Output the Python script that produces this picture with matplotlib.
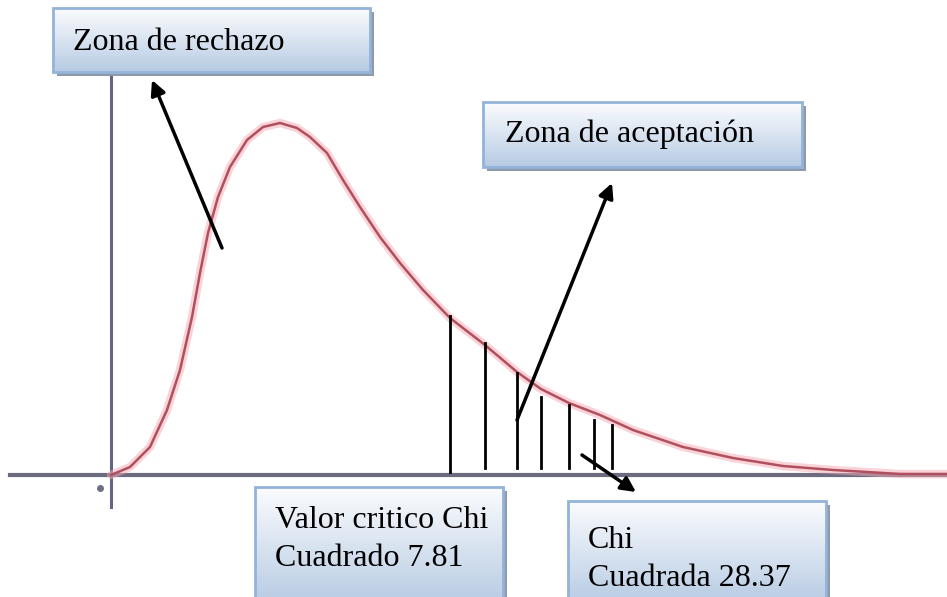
import numpy as np
import matplotlib
matplotlib.use("Agg")
import matplotlib.pyplot as plt
from matplotlib.colors import LinearSegmentedColormap
from matplotlib.patches import Rectangle

# curve (x from origin, height above axis)
curve_x = [0, 19, 39, 56, 69, 81, 89, 97, 107, 119, 136, 152, 169, 186, 199, 216,
           232, 249, 269, 289, 312, 339, 374, 406, 430, 458, 489, 522, 572, 622,
           672, 722, 756, 789, 836]
curve_y = [0, 8, 28, 65, 105, 158, 202, 242, 278, 308, 335, 348, 352, 347, 338, 322,
           295, 268, 238, 212, 185, 157, 130, 103, 86, 72, 60, 45, 28, 17,
           9, 5, 3, 1, 1]

# hatch lines under the tail
hatch_x = [339, 374, 406, 430, 458, 483, 501]
hatch_top = [159, 132, 102, 78, 70, 55, 50]
hatch_bottom = [3, 7, 7, 7, 7, 7, 7]

labels = ["Zona de rechazo", "Zona de aceptación",
          "Valor critico Chi\nCuadrado 7.81", "Chi\nCuadrada 28.37"]

fig = plt.figure(figsize=(9.47, 5.97), dpi=100)
ax = fig.add_axes([0, 0, 1, 1])
ax.axis("off")

box_cmap = LinearSegmentedColormap.from_list("box", ["#b7cbe3", "#fbfcfe"])
grad = np.linspace(0, 1, 64).reshape(-1, 1)


def callout(x0, x1, y0, y1, lines, tx, ty):
    ax.add_patch(Rectangle((x0 + 4, y0 - 4), x1 - x0, y1 - y0,
                           facecolor="#8e99aa", edgecolor="none", zorder=4))
    ax.imshow(grad, cmap=box_cmap, extent=(x0, x1, y0, y1), origin="lower",
              aspect="auto", zorder=5)
    ax.add_patch(Rectangle((x0, y0), x1 - x0, y1 - y0, facecolor="none",
                           edgecolor="#93b3d9", lw=2, zorder=6))
    for i, t in enumerate(lines):
        ax.text(tx, ty[i], t, family="Liberation Serif", fontsize=23,
                va="center", ha="left", color="black", zorder=7)


# axes of the sketch
ax.plot([0, 0], [-32, 400], color="#64648a", lw=2.2, zorder=2)
ax.plot([-101, 836], [0, 0], color="#6c6c80", lw=3, zorder=2)
ax.plot([-11], [-13], "o", color="#6e6e88", ms=4, zorder=2)

# density curve with soft halo
ax.plot(curve_x, curve_y, color="#f4a8b0", lw=6, alpha=0.5, zorder=3,
        solid_capstyle="round", solid_joinstyle="round")
ax.plot(curve_x, curve_y, color="#b0505e", lw=1.8, zorder=3,
        solid_joinstyle="round")

for x, t, b in zip(hatch_x, hatch_top, hatch_bottom):
    ax.plot([x, x], [b, t], color="black", lw=2, zorder=3)

arrow = dict(arrowstyle="-|>", lw=2.5, color="black", mutation_scale=22,
             shrinkA=0, shrinkB=0)
ax.annotate("", xy=(41, 395), xytext=(111, 227), arrowprops=arrow, zorder=8)
ax.annotate("", xy=(501, 292), xytext=(406, 55), arrowprops=arrow, zorder=8)
ax.annotate("", xy=(525, -17), xytext=(471, 20), arrowprops=arrow, zorder=8)

callout(-58, 259, 403, 467, labels[0].split("\n"), -38, [433])
callout(372, 691, 308, 373, labels[1].split("\n"), 394, [341])
callout(144, 392, -130, -12, labels[2].split("\n"), 164, [-45, -83])
callout(457, 715, -130, -26, labels[3].split("\n"), 477, [-65, -104])

ax.set_xlim(-111, 836)
ax.set_ylim(-122, 475)

fig.savefig("out.png", dpi=100, facecolor="white")
